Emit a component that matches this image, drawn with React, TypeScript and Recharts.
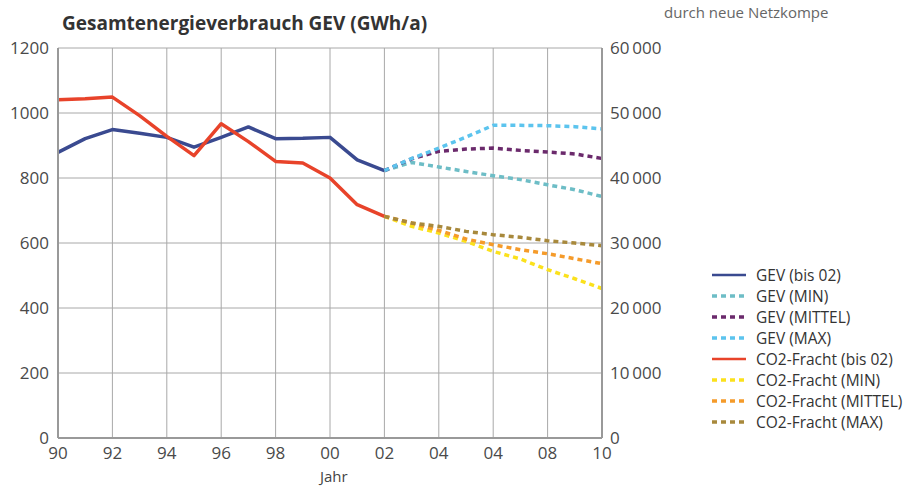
import { LineChart, Line, XAxis, YAxis, CartesianGrid } from 'recharts';

const years = [
  1990, 1991, 1992, 1993, 1994, 1995, 1996, 1997, 1998, 1999, 2000,
  2001, 2002, 2003, 2004, 2005, 2006, 2007, 2008, 2009, 2010,
];
const tickYears = [1990, 1992, 1994, 1996, 1998, 2000, 2002, 2004, 2006, 2008, 2010];
// the original prints "04" twice
const tickLabels = ['90', '92', '94', '96', '98', '00', '02', '04', '04', '08', '10'];

// 1990–2002
const gevHist = [879, 921, 949, 938, 925, 895, 925, 957, 921, 922, 925, 856, 823];
const co2Hist = [52050, 52200, 52450, 49600, 46400, 43450, 48350, 45600, 42550, 42300, 40000, 35900, 34100];

// 2002–2010
const gevMin = [823, 848, 834, 820, 807, 795, 779, 764, 743];
const gevMittel = [823, 859, 882, 889, 892, 885, 880, 874, 860];
const gevMax = [823, 860, 892, 926, 962, 962, 961, 958, 951];
const co2Min = [34100, 32560, 31540, 30250, 28710, 27540, 25900, 24500, 23000];
const co2Mittel = [34100, 33080, 31940, 30610, 29740, 28970, 28350, 27580, 26820];
const co2Max = [34100, 33080, 32560, 31790, 31280, 30870, 30350, 30000, 29580];

const leftTicks = [0, 200, 400, 600, 800, 1000, 1200];
const rightTicks = [0, 10000, 20000, 30000, 40000, 50000, 60000];

const HIST_END = 12;

const data = years.map((year, i) => ({
  year,
  gevHist: i <= HIST_END ? gevHist[i] : undefined,
  co2Hist: i <= HIST_END ? co2Hist[i] : undefined,
  gevMin: i >= HIST_END ? gevMin[i - HIST_END] : undefined,
  gevMittel: i >= HIST_END ? gevMittel[i - HIST_END] : undefined,
  gevMax: i >= HIST_END ? gevMax[i - HIST_END] : undefined,
  co2Min: i >= HIST_END ? co2Min[i - HIST_END] : undefined,
  co2Mittel: i >= HIST_END ? co2Mittel[i - HIST_END] : undefined,
  co2Max: i >= HIST_END ? co2Max[i - HIST_END] : undefined,
}));

const DASH = '5 4';

// axis 0 = GWh/a (left), axis 1 = CO2 (right)
const series = [
  { key: 'gevHist', name: 'GEV (bis 02)', color: '#3a4a90', axis: 0, dash: undefined },
  { key: 'gevMin', name: 'GEV (MIN)', color: '#6dbdc6', axis: 0, dash: DASH },
  { key: 'gevMittel', name: 'GEV (MITTEL)', color: '#6b2a6c', axis: 0, dash: DASH },
  { key: 'gevMax', name: 'GEV (MAX)', color: '#5cc4ee', axis: 0, dash: DASH },
  { key: 'co2Hist', name: 'CO2-Fracht (bis 02)', color: '#e8432a', axis: 1, dash: undefined },
  { key: 'co2Min', name: 'CO2-Fracht (MIN)', color: '#fbe11c', axis: 1, dash: DASH },
  { key: 'co2Mittel', name: 'CO2-Fracht (MITTEL)', color: '#f59b2a', axis: 1, dash: DASH },
  { key: 'co2Max', name: 'CO2-Fracht (MAX)', color: '#a8893c', axis: 1, dash: DASH },
];

const FONT = '"Open Sans", "Noto Sans", sans-serif';
const tickStyle = { fill: '#4a4a4a', fontSize: 17, fontFamily: FONT };
const GRID = '#a8a8a8';

const fmtRight = (v: number) => {
  if (v === 0) return '0';
  const s = String(v);
  return s.slice(0, s.length - 3) + '\u2009' + s.slice(-3);
};

export default function App() {
  return (
    <div style={{ position: 'absolute', left: 0, top: 0, width: 904, height: 490, background: '#fff', fontFamily: FONT }}>
      <div style={{ position: 'absolute', left: 664, top: 2, fontSize: 15, lineHeight: '20px', color: '#666' }}>
        durch neue Netzkompe
      </div>
      <div style={{ position: 'absolute', left: 62, top: 10, fontSize: 19, fontWeight: 700, color: '#333' }}>
        Gesamtenergieverbrauch GEV (GWh/a)
      </div>

      <LineChart width={904} height={490} data={data} margin={{ top: 48, right: 232, bottom: 22, left: 0 }}>
        <CartesianGrid
          stroke={GRID}
          strokeWidth={1}
          horizontal={{ stroke: GRID, strokeWidth: 1.6 }}
        />
        <XAxis
          dataKey="year"
          type="number"
          domain={[1990, 2010]}
          ticks={tickYears}
          tickFormatter={(v: number) => tickLabels[tickYears.indexOf(v)] ?? ''}
          tick={tickStyle}
          tickLine={false}
          tickSize={0}
          tickMargin={9}
          height={30}
          stroke="#999"
          strokeWidth={2}
        />
        <YAxis
          yAxisId={0}
          orientation="left"
          type="number"
          domain={[0, 1200]}
          ticks={leftTicks}
          tick={tickStyle}
          tickLine={false}
          tickSize={0}
          tickMargin={9}
          width={58}
          stroke="#999"
          strokeWidth={2}
        />
        <YAxis
          yAxisId={1}
          orientation="right"
          type="number"
          domain={[0, 60000]}
          ticks={rightTicks}
          tickFormatter={fmtRight}
          tick={{ ...tickStyle, textAnchor: 'start' }}
          tickLine={false}
          tickSize={0}
          tickMargin={8}
          width={70}
          stroke="#999"
          strokeWidth={2}
        />
        {series.map((s) => (
          <Line
            key={s.key}
            yAxisId={s.axis}
            dataKey={s.key}
            name={s.name}
            type="linear"
            stroke={s.color}
            strokeWidth={3.5}
            strokeDasharray={s.dash}
            strokeLinejoin="round"
            dot={false}
            activeDot={false}
            isAnimationActive={false}
          />
        ))}
      </LineChart>

      <div style={{ position: 'absolute', left: 320, top: 466, fontSize: 15, color: '#444' }}>Jahr</div>

      <div style={{ position: 'absolute', left: 712, top: 264 }}>
        {series.map((s) => (
          <div key={s.key} style={{ display: 'flex', alignItems: 'center', height: 21 }}>
            <svg width={34} height={10} style={{ marginRight: 10 }}>
              <line x1={0} y1={5} x2={34} y2={5} stroke={s.color} strokeWidth={s.dash ? 3.5 : 2.5} strokeDasharray={s.dash} />
            </svg>
            <span style={{ fontSize: 15.5, color: '#333', whiteSpace: 'nowrap' }}>{s.name}</span>
          </div>
        ))}
      </div>
    </div>
  );
}
